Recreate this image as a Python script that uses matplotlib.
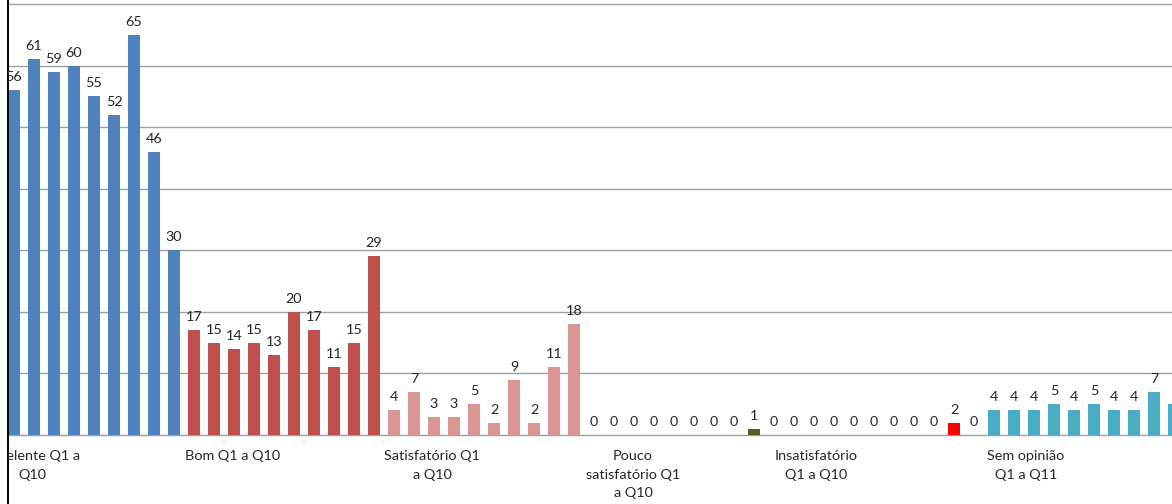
import matplotlib
matplotlib.use("Agg")
import matplotlib.pyplot as plt

# values per rating group (Q1..Q10 / Q1..Q11); first blue and last teal bars fall outside the crop
excelente = [58, 56, 61, 59, 60, 55, 52, 65, 46, 30]
bom = [17, 15, 14, 15, 13, 20, 17, 11, 15, 29]
satisfatorio = [4, 7, 3, 3, 5, 2, 9, 2, 11, 18]
pouco = [0, 0, 0, 0, 0, 0, 0, 0, 1, 0]
insatisfatorio = [0, 0, 0, 0, 0, 0, 0, 0, 2, 0]
sem_opiniao = [4, 4, 4, 5, 4, 5, 4, 4, 7, 5, 4]

group_labels = ["Excelente Q1 a\nQ10", "Bom Q1 a Q10", "Satisfatório Q1\na Q10",
                "Pouco\nsatisfatório Q1\na Q10", "Insatisfatório\nQ1 a Q10", "Sem opinião\nQ1 a Q11"]
group_colors = ["#4F81BD", "#C0504D", "#D99694", "#4F6228", "#FF0000", "#4BACC6"]
# where each category label sits, counted in bars from the group start
label_offsets = [1.9, 1.95, 1.9, 1.95, 1.1, 1.6]

groups = [excelente, bom, satisfatorio, pouco, insatisfatorio, sem_opiniao]

W, H = 1172, 504
fig = plt.figure(figsize=(W / 100, H / 100), dpi=100)
ax = fig.add_axes([8 / W, 0, 1 - 8 / W, 1])

font = dict(family=["Lato", "DejaVu Sans"], fontsize=10.4, color="#262626")

# y scale: 0 at 435 px, 70 at 4 px from the top
ppu = (435 - 4) / 70
ax.set_ylim(-(H - 435) / ppu, 70 + 4 / ppu)
ax.set_xlim((8 + 6) / 20, (W + 6) / 20)

for yv in range(0, 71, 10):
    ax.axhline(yv, color="#A0A0A0", lw=1.0, zorder=0)

start = 0
for vals, color, label, off in zip(groups, group_colors, group_labels, label_offsets):
    xs = list(range(start, start + len(vals)))
    ax.bar(xs, vals, width=0.6, color=color, zorder=2)
    for x, v in zip(xs, vals):
        ax.annotate(str(v), (x, v), xytext=(0, 7), textcoords="offset pixels",
                    ha="center", va="bottom", clip_on=True, **font)
    ax.text(start + off, -2.5, label, ha="center", va="top", linespacing=1.65,
            clip_on=True, **font)
    start += len(vals)

for side in ["top", "right", "bottom"]:
    ax.spines[side].set_visible(False)
ax.spines["left"].set_color("black")
ax.spines["left"].set_linewidth(1.4)
ax.set_xticks([])
ax.set_yticks([])

fig.savefig("out.png", dpi=100)
